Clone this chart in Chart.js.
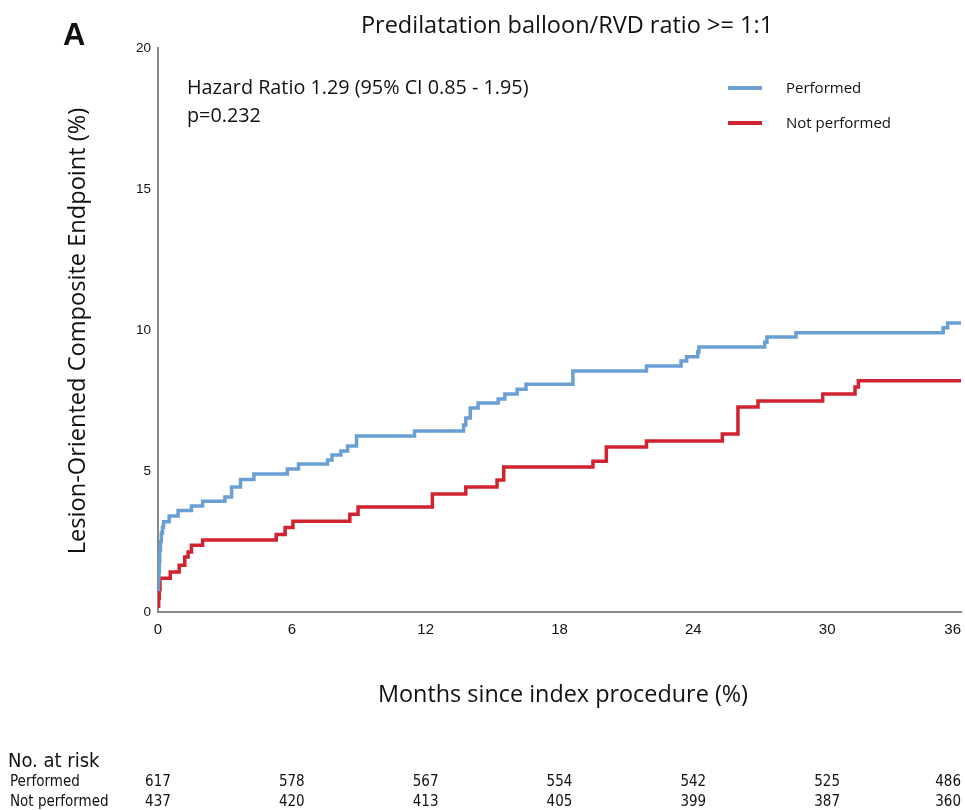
<!DOCTYPE html>
<html>
<head>
<meta charset="utf-8">
<script src="https://cdn.jsdelivr.net/npm/chart.js@4.4.1/dist/chart.umd.min.js"></script>
<style>
  html, body { margin: 0; padding: 0; background: #fff; overflow: hidden; }
  #wrap { position: relative; width: 965px; height: 810px; }
  #km { position: absolute; left: 0; top: 0; }
  .t { position: absolute; white-space: nowrap; line-height: 1; color: #111; font-family: "Open Sans", sans-serif; }
  .risk { position: absolute; white-space: nowrap; line-height: 1; color: #111;
          font-family: "Liberation Sans Narrow", "DejaVu Sans Condensed", sans-serif; font-size: 15px; }
</style>
</head>
<body>
<div id="wrap">
  <canvas id="km" width="965" height="810"></canvas>
  <div class="t" style="left:63px;top:19px;font-family:'Liberation Sans',Arial,sans-serif;font-weight:bold;font-size:31px;">A</div>
  <div class="t" style="left:567px;top:13px;font-size:23.5px;transform:translateX(-50%);">Predilatation balloon/RVD ratio &gt;= 1:1</div>
  <div class="t" style="left:187px;top:77px;font-size:19.8px;">Hazard Ratio 1.29 (95% CI 0.85 - 1.95)</div>
  <div class="t" style="left:187px;top:105px;font-size:19.8px;">p=0.232</div>
  <div class="t" style="left:77px;top:331px;font-size:23.6px;transform:translate(-50%,-50%) rotate(-90deg);">Lesion-Oriented Composite Endpoint (%)</div>
  <div class="t" style="left:563px;top:682px;font-size:23.4px;transform:translateX(-50%);">Months since index procedure (%)</div>
  <div id="legend"></div>
  <div class="risk" style="left:8px;top:750px;font-size:20px;">No. at risk</div>
  <div id="riskRows"></div>
</div>
<script>
// Données (mois, % cumulé)
const performedMonths = [0, 0.02, 0.04, 0.06, 0.08, 0.11, 0.15, 0.2, 0.25, 0.5, 0.9, 1.5, 2.0, 3.0, 3.3, 3.7, 4.3, 5.8, 6.3, 7.6, 7.8, 8.2, 8.5, 8.9, 11.5, 13.7, 13.8, 14.0, 14.35, 15.25, 15.55, 16.1, 16.5, 18.6, 21.9, 23.45, 23.7, 24.2, 24.25, 27.2, 27.3, 28.6, 35.2, 35.4, 36];
const performedValues = [0.8, 1.1, 1.4, 1.8, 2.2, 2.5, 2.8, 3.0, 3.2, 3.4, 3.6, 3.76, 3.93, 4.08, 4.43, 4.7, 4.89, 5.07, 5.25, 5.39, 5.57, 5.71, 5.89, 6.24, 6.42, 6.63, 6.88, 7.23, 7.41, 7.55, 7.73, 7.9, 8.08, 8.55, 8.72, 8.9, 9.05, 9.23, 9.4, 9.57, 9.75, 9.9, 10.08, 10.25, 10.25];

const notPerformedMonths = [0, 0.03, 0.06, 0.09, 0.55, 0.95, 1.2, 1.35, 1.5, 2.0, 5.3, 5.7, 6.05, 8.6, 8.97, 12.3, 13.8, 15.2, 15.5, 19.5, 20.1, 21.9, 25.3, 26.0, 26.9, 29.8, 31.25, 31.4, 36];
const notPerformedValues = [0.2, 0.5, 0.8, 1.2, 1.42, 1.66, 1.95, 2.13, 2.37, 2.55, 2.75, 3.0, 3.22, 3.47, 3.72, 4.18, 4.43, 4.68, 5.14, 5.35, 5.85, 6.06, 6.31, 7.27, 7.48, 7.73, 7.98, 8.2, 8.2];

const groupLabels = ["Performed", "Not performed"];
const groupColors = ["#6a9fd4", "#d12230"];

const xTickValues = [0, 6, 12, 18, 24, 30, 36];
const yTickValues = [0, 5, 10, 15, 20];

// Nombre de patients à risque
const riskMonths = [0, 6, 12, 18, 24, 30, 36];
const riskPerformed = [617, 578, 567, 554, 542, 525, 486];
const riskNotPerformed = [437, 420, 413, 405, 399, 387, 360];

function toPoints(xs, ys) {
  return xs.map((x, i) => ({ x: x, y: ys[i] }));
}

const ctx = document.getElementById("km").getContext("2d");

const config = {
  type: "line",
  data: {
    datasets: [
      {
        label: groupLabels[0],
        data: toPoints(performedMonths, performedValues),
        borderColor: groupColors[0],
        borderWidth: 3.5,
        stepped: true,
        pointRadius: 0,
        fill: false,
      },
      {
        label: groupLabels[1],
        data: toPoints(notPerformedMonths, notPerformedValues),
        borderColor: groupColors[1],
        borderWidth: 3.5,
        stepped: true,
        pointRadius: 0,
        fill: false,
      },
    ],
  },
  options: {
    responsive: false,
    animation: false,
    layout: { padding: { top: 48, right: 4, left: 0, bottom: 0 } },
    plugins: { legend: { display: false }, tooltip: { enabled: false }, title: { display: false } },
    scales: {
      x: {
        type: "linear",
        min: 0,
        max: 36,
        afterBuildTicks: (s) => { s.ticks = xTickValues.map((v) => ({ value: v })); },
        afterFit: (s) => { s.height = 198; s.paddingLeft = 0; s.paddingRight = 0; },
        grid: { display: false, drawTicks: false },
        border: { display: true, color: "#888", width: 2 },
        ticks: {
          padding: 9,
          color: "#111",
          maxRotation: 0,
          font: { family: "'Liberation Sans', Arial, sans-serif", size: 15 },
          callback: (v) => (v === 36 ? "36\u2007\u2007" : String(v)),
        },
      },
      y: {
        min: 0,
        max: 20,
        afterBuildTicks: (s) => { s.ticks = yTickValues.map((v) => ({ value: v })); },
        afterFit: (s) => { s.width = 158; },
        grid: { display: false, drawTicks: false },
        border: { display: true, color: "#888", width: 2 },
        ticks: {
          padding: 7,
          color: "#111",
          font: { family: "'Liberation Sans', Arial, sans-serif", size: 13.5 },
        },
      },
    },
  },
};

const kmChart = new Chart(ctx, config);

// Légende en HTML
const legend = document.getElementById("legend");
const legendTops = [88, 123];
groupLabels.forEach((lab, i) => {
  const line = document.createElement("div");
  line.style.cssText = "position:absolute;left:728px;width:34px;height:4px;top:" + (legendTops[i] - 2) + "px;background:" + groupColors[i] + ";";
  legend.appendChild(line);
  const txt = document.createElement("div");
  txt.className = "t";
  txt.style.cssText = "left:786px;font-size:15px;top:" + (legendTops[i] - 8) + "px;";
  txt.textContent = lab;
  legend.appendChild(txt);
});

// Tableau des patients à risque, aligné sur l'axe x
const riskRows = document.getElementById("riskRows");
const xScale = kmChart.scales.x;
[[groupLabels[0], riskPerformed, 774], [groupLabels[1], riskNotPerformed, 794]].forEach((row) => {
  const name = document.createElement("div");
  name.className = "risk";
  name.style.left = "10px";
  name.style.top = row[2] + "px";
  name.textContent = row[0];
  riskRows.appendChild(name);
  row[1].forEach((n, i) => {
    const cell = document.createElement("div");
    cell.className = "risk";
    let px = xScale.getPixelForValue(riskMonths[i]);
    cell.style.top = row[2] + "px";
    if (i === riskMonths.length - 1) {
      cell.style.right = (965 - px) + "px";
    } else {
      cell.style.left = px + "px";
      cell.style.transform = "translateX(-50%)";
    }
    cell.textContent = n;
    riskRows.appendChild(cell);
  });
});
</script>
</body>
</html>
